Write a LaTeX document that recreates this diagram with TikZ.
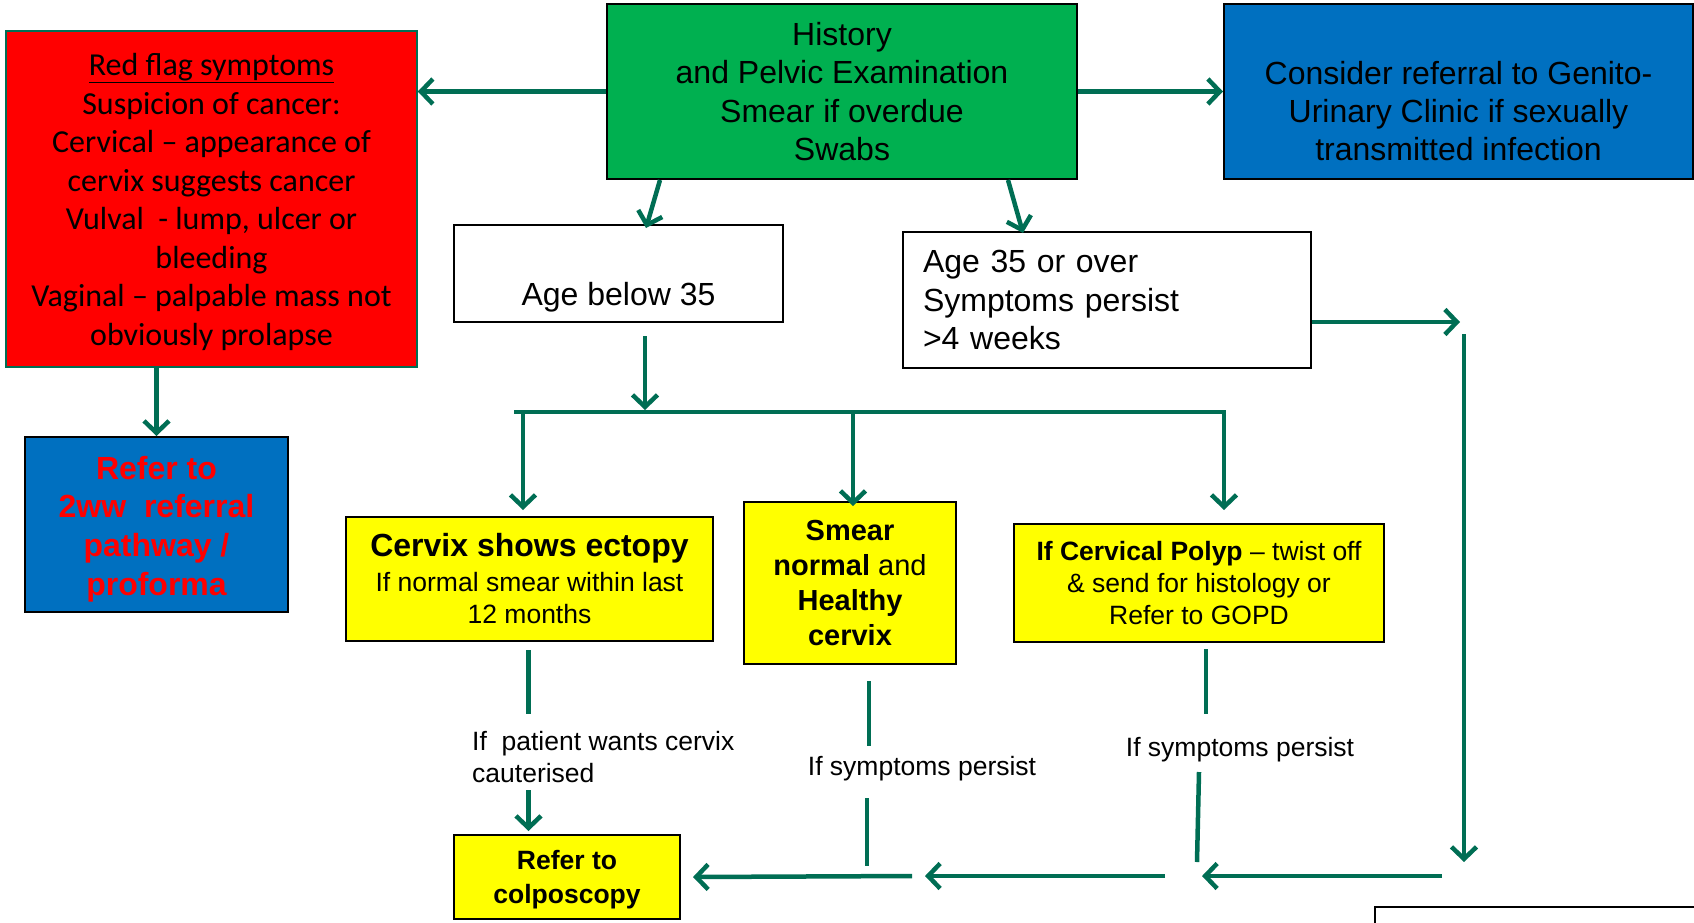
\documentclass[tikz,border=0pt]{standalone}
\usepackage{fontspec}
\setmainfont{Liberation Sans}
\newfontfamily\calibri{Carlito}
\usetikzlibrary{arrows.meta,calc}
\definecolor{flowgreen}{RGB}{0,110,84}
\definecolor{boxred}{RGB}{255,0,0}
\definecolor{boxgreen}{RGB}{0,176,80}
\definecolor{boxblue}{RGB}{0,112,192}
\definecolor{boxyellow}{RGB}{255,255,0}
\begin{document}
\begin{tikzpicture}[x=1pt,y=-1pt,
  box/.style={draw=black,line width=2pt,rectangle,inner sep=0pt,align=center},
  conn/.style={draw=flowgreen,line width=4.5pt},
  arr/.style={conn,-{Straight Barb[length=12pt,width=25pt]}},
  big/.style={font=\fontsize{32}{38.4}\selectfont},
  mid/.style={font=\fontsize{26.5}{32}\selectfont},
  lbl/.style={inner sep=0pt,align=center},
]
\useasboundingbox (0,0) rectangle (1694,922);
\clip (0,0) rectangle (1694,922);

% ---------- boxes ----------
\node[box,fill=boxred,draw=flowgreen,line width=1.5pt,minimum width=411pt,minimum height=336pt] (red) at (211.5,199) {};
\node[lbl,font=\calibri\fontsize{32}{38.5}\selectfont] (redtext) at (211.5,202)
  {\underline{Red flag symptoms}\\Suspicion of cancer:\\Cervical – appearance of\\cervix suggests cancer\\Vulval~~- lump, ulcer or\\bleeding\\Vaginal – palpable mass not\\obviously prolapse};

\node[box,fill=boxgreen,minimum width=470pt,minimum height=175pt,big] (green) at (842,91.5)
  {History\\and Pelvic Examination\\Smear if overdue\\Swabs};

\node[box,fill=boxblue,minimum width=469pt,minimum height=175pt] (blueR) at (1458.5,91.5) {};
\node[lbl,big] (blueRtext) at (1458.5,111)
  {Consider referral to Genito-\\Urinary Clinic if sexually\\transmitted infection};

\node[box,fill=white,minimum width=329pt,minimum height=97pt] (ageB) at (618.5,273.5) {};
\node[lbl,big] (ageBtext) at (618.5,297) {Age below 35};

\node[box,fill=white,minimum width=408pt,minimum height=136pt,align=left,text width=368pt,
      inner xsep=20pt,font=\fontsize{32}{38.5}\selectfont] (age35) at (1107,300)
  {Age 35 or over\\Symptoms persist\\>4 weeks};

\node[box,fill=boxblue,minimum width=263pt,minimum height=175pt] (refer) at (156.5,524.5) {};
\node[lbl,text=boxred,font=\fontsize{32}{38.6}\selectfont\bfseries] (refertext) at (156.5,529)
  {Refer to\\2ww~~referral\\pathway /\\proforma};

\node[box,fill=boxyellow,minimum width=367pt,minimum height=124pt,mid] (ectopy) at (529.5,579)
  {{\fontsize{32}{38}\selectfont\bfseries Cervix shows ectopy}\\[3pt]If normal smear within last\\12 months};

\node[box,fill=boxyellow,minimum width=212pt,minimum height=162pt,
      font=\fontsize{29}{35}\selectfont] (smear) at (850,583)
  {\textbf{Smear}\\\textbf{normal} and\\\textbf{Healthy}\\\textbf{cervix}};

\node[box,fill=boxyellow,minimum width=370pt,minimum height=118pt,mid] (polyp) at (1199,583)
  {\textbf{If Cervical Polyp} – twist off\\\& send for histology or\\Refer to GOPD};

\node[box,fill=boxyellow,minimum width=226pt,minimum height=84pt] (colpo) at (567,877) {};
\node[lbl,font=\fontsize{26.5}{34}\selectfont\bfseries] (colpotext) at (567,880)
  {Refer to\\colposcopy};

% partly visible box at bottom right
\draw[black,line width=2pt] (1375,930) -- (1375,907) -- (1700,907);

% ---------- labels ----------
\node[lbl,anchor=west,align=left,font=\fontsize{26.5}{32}\selectfont] (lab1) at (472,757)
  {If~~patient wants cervix\\cauterised};
\node[lbl,mid] (lab2) at (922,769) {If symptoms persist};
\node[lbl,mid] (lab3) at (1240,750) {If symptoms persist};

% ---------- connectors ----------
\draw[arr] (green.west) -- (red.east |- green.west);
\draw[arr] (green.east) -- (blueR.west);
\draw[arr] ($(green.south west)+(54,0)$) -- ($(ageB.north west)+(193,4)$);
\draw[arr] ($(green.south west)+(402,0)$) -- ($(age35.north west)+(121,2)$);
\draw[arr] (red.south -| refer.north) -- (refer.north);

\coordinate (busL) at (514,412);
\coordinate (busR) at (1226,412);
\coordinate (d1) at (523,412);
\coordinate (d2) at (853,412);
\coordinate (d3) at (1224,412);
\coordinate (a1) at ($(ageB.south)+(26.5,13)$);
\draw[conn] (busL) -- (busR);
\draw[arr,shorten >=2pt] (a1) -- (a1 |- busL);
\draw[arr] (d1) -- ($(ectopy.north -| d1)+(0,-6)$);
\draw[arr] (d2) -- ($(smear.north -| d2)+(0,5)$);
\draw[arr] (d3) -- ($(polyp.north -| d3)+(0,-13)$);

% age 35 branch
\coordinate (r1) at (1464,334);
\coordinate (r2) at (1464,862);
\draw[arr] ($(age35.east)+(0,22)$) -- ($(r1)+(-4,-12)$);
\draw[arr] (r1) -- (r2);

% bottom return line
\coordinate (h1) at (1442,876);
\coordinate (h2) at (1202,876);
\coordinate (h3) at (1165,876);
\coordinate (h4) at (925,876);
\coordinate (h5) at (912,876);
\draw[arr] (h1) -- (h2);
\draw[arr] (h3) -- (h4);
\draw[arr] (h5) -- ($(colpo.east)+(12,0)$);

% ectopy branch
\draw[conn] ($(ectopy.south)+(-1,8)$) -- +(0,64);
\coordinate (e1) at (528.5,790);
\draw[arr,shorten >=3pt] (e1) -- (colpo.north -| e1);

% smear branch
\draw[conn] ($(smear.south)+(19,16)$) -- +(0,65);
\coordinate (s1) at (867,798);
\coordinate (s2) at (867,866);
\draw[conn] (s1) -- (s2);

% polyp branch
\draw[conn] ($(polyp.south)+(7,6)$) -- +(0,65);
\coordinate (p1) at (1199,772);
\coordinate (p2) at (1197,862);
\draw[conn] (p1) -- (p2);
\end{tikzpicture}
\end{document}
